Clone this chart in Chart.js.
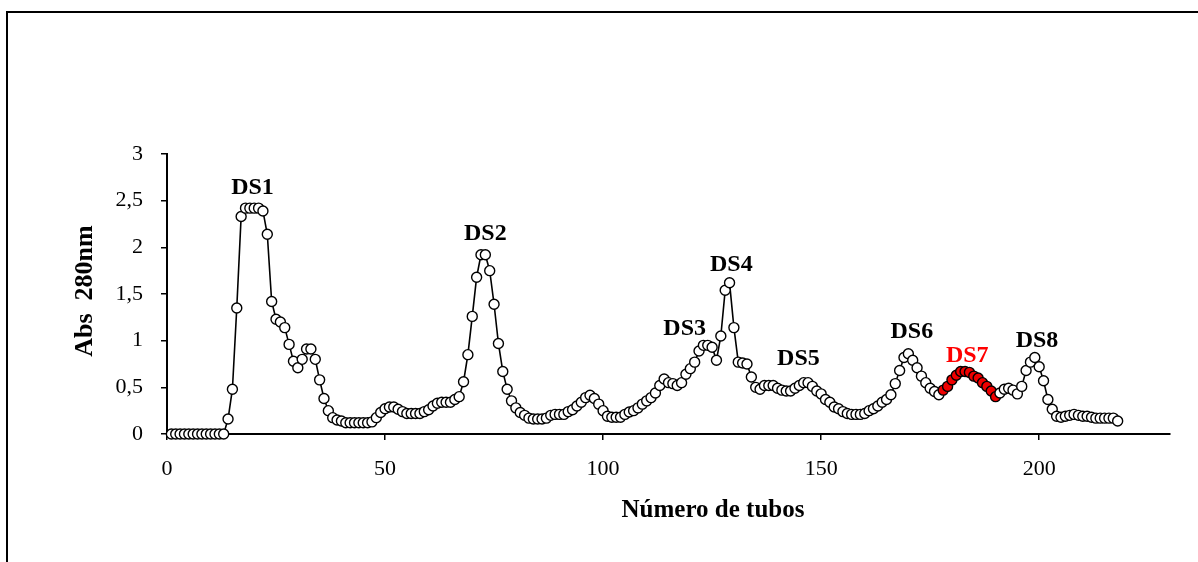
<!DOCTYPE html>
<html><head><meta charset="utf-8">
<script src="https://cdn.jsdelivr.net/npm/chart.js@4.4.1/dist/chart.umd.min.js"></script>
<style>html,body{margin:0;padding:0;background:#fff;}#wrap{width:1198px;height:562px;}</style>
</head><body><div id="wrap"><canvas id="c" width="1198" height="562"></canvas></div>
<script>
// Absorbance at 280 nm, one value per tube, starting at tube 1
const firstTube = 1;
const absValues = [
  0, 0, 0, 0, 0, 0, 0, 0, 0, 0,            // 1-10
  0, 0, 0, 0.16, 0.48, 1.35, 2.33, 2.42, 2.42, 2.42, // 11-20
  2.42, 2.39, 2.14, 1.42, 1.23, 1.20, 1.14, 0.96, 0.78, 0.71, // 21-30
  0.80, 0.91, 0.91, 0.80, 0.58, 0.38, 0.25, 0.175, 0.15, 0.14, // 31-40
  0.12, 0.12, 0.12, 0.12, 0.12, 0.12, 0.13, 0.175, 0.23, 0.27, // 41-50
  0.29, 0.29, 0.265, 0.24, 0.22, 0.22, 0.22, 0.22, 0.24, 0.26, // 51-60
  0.30, 0.33, 0.34, 0.34, 0.34, 0.37, 0.40, 0.56, 0.85, 1.26, // 61-70
  1.68, 1.92, 1.92, 1.75, 1.39, 0.97, 0.67, 0.48, 0.355, 0.28, // 71-80
  0.23, 0.20, 0.17, 0.16, 0.16, 0.16, 0.17, 0.20, 0.21, 0.21, // 81-90
  0.21, 0.24, 0.26, 0.30, 0.34, 0.39, 0.415, 0.38, 0.32, 0.25, // 91-100
  0.19, 0.18, 0.18, 0.18, 0.21, 0.235, 0.25, 0.28, 0.32, 0.355, // 101-110
  0.39, 0.44, 0.52, 0.59, 0.55, 0.54, 0.52, 0.55, 0.64, 0.70, // 111-120
  0.77, 0.89, 0.95, 0.95, 0.93, 0.79, 1.05, 1.54, 1.62, 1.14, // 121-130
  0.77, 0.76, 0.75, 0.61, 0.50, 0.48, 0.52, 0.52, 0.52, 0.49, // 131-140
  0.47, 0.46, 0.46, 0.49, 0.52, 0.55, 0.55, 0.51, 0.46, 0.43, // 141-150
  0.37, 0.34, 0.29, 0.27, 0.24, 0.22, 0.21, 0.21, 0.21, 0.22, // 151-160
  0.25, 0.27, 0.30, 0.34, 0.37, 0.42, 0.54, 0.68, 0.82, 0.86, // 161-170
  0.79, 0.71, 0.62, 0.55, 0.49, 0.455, 0.42, 0.47, 0.51, 0.58, // 171-180
  0.63, 0.67, 0.67, 0.66, 0.62, 0.60, 0.55, 0.51, 0.46, 0.40, // 181-190
  0.44, 0.48, 0.49, 0.47, 0.43, 0.51, 0.68, 0.77, 0.82, 0.72, // 191-200
  0.57, 0.37, 0.265, 0.19, 0.18, 0.19, 0.20, 0.21, 0.20, 0.19, // 201-210
  0.19, 0.18, 0.17, 0.17, 0.17, 0.17, 0.17, 0.14              // 211-218
];
// DS7 fraction highlighted in red (tube range)
const highlightFrom = 178;
const highlightTo = 190;

const xTicks = [0, 50, 100, 150, 200];
const yTicks = [0, 0.5, 1, 1.5, 2, 2.5, 3];
const yTickLabels = ['0', '0,5', '1', '1,5', '2', '2,5', '3'];

const peakNames = ['DS1', 'DS2', 'DS3', 'DS4', 'DS5', 'DS6', 'DS7', 'DS8'];
const peakX = [19.6, 73.0, 118.7, 129.4, 144.8, 170.8, 183.5, 199.5];
const peakY = [2.64, 2.15, 1.13, 1.81, 0.81, 1.09, 0.84, 1.00];
const peakColors = ['#000', '#000', '#000', '#000', '#000', '#000', '#ff0000', '#000'];

const xTitle = 'Número de tubos';
const yTitle = 'Abs  280nm';

const points = absValues.map((v, i) => ({ x: firstTube + i, y: v }));

const framePlugin = {
  id: 'frame',
  beforeDraw(chart) {
    const c = chart.ctx;
    c.save();
    c.fillStyle = '#fff';
    c.fillRect(0, 0, chart.width, chart.height);
    c.strokeStyle = '#000';
    c.lineWidth = 2;
    c.strokeRect(7, 12, 1220, 600);
    c.restore();
  }
};

const textPlugin = {
  id: 'texts',
  afterDraw(chart) {
    const c = chart.ctx;
    const xs = chart.scales.x, ys = chart.scales.y;
    c.save();
    c.textAlign = 'center';
    c.textBaseline = 'middle';
    c.font = 'bold 24px "Liberation Serif", "Times New Roman", serif';
    peakNames.forEach((n, i) => {
      c.fillStyle = peakColors[i];
      c.fillText(n, xs.getPixelForValue(peakX[i]), ys.getPixelForValue(peakY[i]));
    });
    c.fillStyle = '#000';
    c.textBaseline = 'alphabetic';
    c.font = 'bold 25px "Liberation Serif", "Times New Roman", serif';
    c.fillText(xTitle, 713, 517);
    c.translate(91.5, 291);
    c.rotate(-Math.PI / 2);
    c.font = 'bold 26px "Liberation Serif", "Times New Roman", serif';
    c.fillText(yTitle, 0, 0);
    c.restore();
  }
};

const tickFont = { family: '"Liberation Serif", "Times New Roman", serif', size: 22 };

new Chart(document.getElementById('c'), {
  type: 'scatter',
  data: {
    datasets: [{
      data: points,
      showLine: true,
      borderColor: '#000',
      borderWidth: 1.6,
      tension: 0,
      clip: false,
      pointRadius: 5,
      pointBorderWidth: 1.4,
      pointBorderColor: '#000',
      pointBackgroundColor: (ctx) => {
        const p = ctx.raw;
        return p && p.x >= highlightFrom && p.x <= highlightTo ? '#f00000' : '#ffffff';
      }
    }]
  },
  options: {
    responsive: false,
    animation: false,
    devicePixelRatio: 1,
    events: [],
    layout: { padding: { left: 0, right: 28, top: 154, bottom: 0 } },
    plugins: { legend: { display: false }, tooltip: { enabled: false } },
    scales: {
      x: {
        type: 'linear', min: 0, max: 230,
        afterBuildTicks: (s) => { s.ticks = xTicks.map(v => ({ value: v })); },
        afterFit: (s) => { s.height = 128; },
        grid: { drawOnChartArea: false, drawTicks: true, tickLength: 6, color: '#000', lineWidth: 1.5 },
        border: { color: '#000', width: 2 },
        ticks: { font: tickFont, color: '#000', padding: 16, maxRotation: 0, autoSkip: false }
      },
      y: {
        type: 'linear', min: 0, max: 3,
        afterBuildTicks: (s) => { s.ticks = yTicks.map(v => ({ value: v })); },
        afterFit: (s) => { s.width = 167; },
        grid: { drawOnChartArea: false, drawTicks: true, tickLength: 6, color: '#000', lineWidth: 1.5 },
        border: { color: '#000', width: 2 },
        ticks: {
          font: tickFont, color: '#000', padding: 18, autoSkip: false,
          callback: (v) => yTickLabels[yTicks.indexOf(v)]
        }
      }
    }
  },
  plugins: [framePlugin, textPlugin]
});
</script>
</body></html>
